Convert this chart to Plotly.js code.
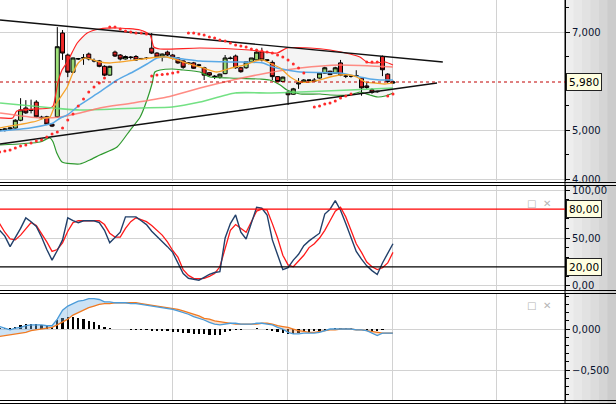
<!DOCTYPE html>
<html><head><meta charset="utf-8">
<script src="https://cdn.plot.ly/plotly-3.0.1.min.js"></script>
<style>html,body{margin:0;padding:0;background:#fff}#chart{width:616px;height:404px}</style>
</head><body><div id="chart"></div>
<script>
// ---------- DATA ----------
const openP = [4.99,5.00,5.02,5.04,5.20,5.45,5.40,5.57,5.25,5.27,
  5.12,5.27,6.98,6.53,6.18,6.45,6.48,6.55,6.42,6.41,
  6.30,6.12,6.59,6.53,6.45,6.49,6.50,6.45,6.47,6.67,
  6.57,6.49,6.59,6.53,6.47,6.41,6.37,6.37,6.33,6.27,
  6.17,6.10,6.08,6.15,6.47,6.51,6.27,6.27,6.39,6.43,
  6.59,6.42,6.38,6.09,5.99,5.77,5.73,5.94,5.98,6.01,
  6.02,6.06,6.16,6.20,6.16,6.37,6.10,6.10,6.11,6.06,
  5.90,5.82,5.78,6.50,6.14,5.96];
const highP = [5.03,5.04,5.06,5.22,5.65,5.61,5.62,5.61,5.29,5.29,
  5.14,7.10,7.04,6.56,6.48,6.47,6.55,6.58,6.46,6.43,
  6.32,6.31,6.62,6.55,6.52,6.51,6.53,6.47,6.49,6.98,
  6.59,6.56,6.62,6.55,6.49,6.42,6.38,6.39,6.35,6.29,
  6.18,6.12,6.15,6.53,6.50,6.54,6.29,6.39,6.47,6.62,
  6.68,6.44,6.42,6.10,6.09,5.79,5.86,6.06,6.04,6.03,
  6.06,6.17,6.29,6.21,6.29,6.43,6.13,6.12,6.22,6.08,
  5.96,5.85,5.80,6.52,6.16,6.01];
const lowP = [4.96,4.97,5.00,5.03,5.18,5.33,5.34,5.25,5.22,5.10,
  5.06,5.25,6.43,6.08,6.17,6.43,6.33,6.42,6.38,6.28,
  6.10,6.11,6.49,6.42,6.44,6.44,6.41,6.43,6.44,6.55,
  6.47,6.40,6.51,6.44,6.35,6.25,6.34,6.25,6.30,6.02,
  6.10,6.04,6.05,6.14,6.44,6.25,6.17,6.25,6.38,6.42,
  6.40,6.40,6.02,5.98,5.98,5.51,5.72,5.84,5.96,5.96,
  5.99,6.05,6.15,6.12,6.16,6.10,6.06,6.07,6.08,5.70,
  5.84,5.74,5.76,6.10,5.96,5.94];
const closeP = [5.01,5.02,5.04,5.20,5.41,5.35,5.41,5.27,5.26,5.12,
  5.08,6.70,6.57,6.18,6.47,6.455,6.47,6.45,6.41,6.30,
  6.12,6.30,6.51,6.45,6.50,6.48,6.43,6.46,6.46,6.57,
  6.49,6.55,6.53,6.47,6.37,6.28,6.36,6.26,6.32,6.12,
  6.12,6.09,6.14,6.47,6.46,6.27,6.19,6.39,6.47,6.59,
  6.43,6.43,6.09,5.99,6.08,5.72,5.84,5.96,6.02,6.02,
  6.00,6.16,6.27,6.13,6.27,6.12,6.10,6.10,6.10,5.86,
  5.87,5.77,5.79,6.23,5.99,5.98];

// Parabolic SAR (null = no dot visible)
const sarP = [4.552,4.572,4.593,4.634,4.674,4.695,4.736,4.776,4.797,4.858,
  4.919,4.960,5.042,5.205,5.327,5.490,5.633,5.776,5.878,5.960,
  6.062,7.102,7.102,7.061,7.020,7.000,6.980,6.980,6.959,6.102,
  6.123,6.133,6.143,6.164,6.184,null,6.980,6.980,6.959,6.939,
  6.898,6.878,6.837,6.816,6.776,6.735,6.714,6.694,6.653,6.633,
  6.612,6.592,6.572,6.531,6.490,6.429,6.347,6.266,6.164,null,
  5.470,5.490,5.531,5.552,5.592,5.654,5.694,5.735,null,null,
  6.388,6.388,6.388,null,5.694,5.735];

// Bollinger bands and moving averages (sampled along the bar index)
const bbUpperX = [0.08,2.5,3.3,9.6,10.2,11.1,11.9,12.9,14.8,16.7,19.1,22.4,26.8,28.7,29.4,30.6,38.2,47.7,52.9,54.8,59.2,63.0,66.8,68.7,70.0,71.6,73.5,75.0];
const bbUpper  = [5.246,5.246,5.388,5.450,5.490,5.960,6.225,6.388,6.776,6.980,7.061,7.082,7.041,6.939,6.694,6.653,6.674,6.633,6.572,6.674,6.674,6.633,6.551,6.490,6.388,6.368,6.388,6.327];
const bbLowerX = [0.08,7.7,9.6,10.2,10.9,11.9,15.3,17.2,19.1,22.4,24.9,26.8,28.1,29.1,29.6,30.6,32.9,35.0,38.2,40.1,43.9,49.6,51.5,53.5,54.8,57.3,61.1,63.0,66.8,68.7,70.6,72.1,73.5,75.0];
const bbLower  = [4.695,4.756,4.838,4.756,4.532,4.348,4.307,4.389,4.491,4.654,5.000,5.266,5.613,5.960,6.184,6.225,6.245,6.225,6.184,6.082,6.062,6.041,6.021,5.919,5.817,5.735,5.735,5.715,5.715,5.776,5.715,5.674,5.694,5.756];
const maBlueX = [0.08,5.8,9.6,10.2,11.6,12.9,15.3,19.1,22.4,25.4,28.1,30.0,31.9,35.0,38.2,44.5,50.2,52.1,54.8,57.3,64.9,68.7,70.6,72.5,75.0];
const maBlue  = [4.980,5.042,5.123,5.144,5.246,5.307,5.511,5.776,6.021,6.184,6.347,6.470,6.490,6.449,6.408,6.388,6.368,6.286,6.225,6.184,6.164,6.082,6.041,6.021,6.021];
const maOrangeX = [0.08,6.4,8.7,9.6,10.2,10.6,12.9,13.8,15.0,16.3,17.8,19.1,21.0,22.9,25.8,28.7,30.6,31.9,33.8,36.3,38.8,41.4,43.0,44.9,46.8,48.7,50.2,51.5,53.5,55.4,57.3,59.2,61.1,63.0,64.9,66.8,68.1,69.7,71.6,73.5,75.0];
const maOrange  = [5.042,5.164,5.246,5.266,5.409,5.511,5.878,6.123,6.368,6.470,6.429,6.388,6.368,6.388,6.429,6.470,6.490,6.490,6.429,6.347,6.266,6.184,6.225,6.286,6.327,6.408,6.429,6.368,6.266,6.082,5.980,5.980,6.021,6.082,6.123,6.123,6.082,5.980,5.960,5.939,5.960];
const maSalmonX = [0.08,7.7,11.6,15.3,19.1,25.4,31.9,38.2,44.5,51.0,57.3,64.9,75.0];
const maSalmon  = [5.347,5.246,5.266,5.347,5.450,5.552,5.674,5.858,6.021,6.164,6.266,6.327,6.286];
const maGreenX = [0.08,10.2,15.3,26.8,32.9,38.2,44.9,51.5,57.3,66.8,75.0];
const maGreen  = [5.552,5.450,5.409,5.450,5.470,5.572,5.756,5.756,5.776,5.817,5.858];

// Triangle trend lines
const trendUpX = [0.08, 84.5], trendUpY = [7.245, 6.388];
const trendLoX = [0.08, 83.4], trendLoY = [4.715, 5.960];

// Stochastic %K / %D
const stochK = [58,52,41,50,60,71,67,62,51,38,27,37,48,71,68,66,68,68,68,66,
  58,45,50,56,72,72,72,68,64,57,52,46,41,35,24,13,8,7,6,9,
  12,14,15,50,65,74,56,49,65,82,81,74,48,32,17,19,27,33,42,47,
  51,55,75,80,89,79,65,50,36,28,21,16,12,24,34,44];
const stochD = [65,56,49,48,53,60,66,63,55,46,36,38,45,57,66,68,68,68,68,68,
  64,55,51,51,60,67,71,69,67,63,58,53,46,37,30,17,11,8,7.5,8,
  10,13,20,40,58,64,60,56,67,78,80,79,65,50,32,22,20,26,32,40,
  44,50,58,68,78,82,72,58,44,35,25,20,17,19,24,35];
const stochLevels = [80, 20];

// MACD, signal, histogram
const macdV = [0.03,0.01,-0.01,0.01,0.02,0.04,0.05,0.05,0.05,0.04,
  0.04,0.12,0.23,0.28,0.31,0.34,0.35,0.37,0.37,0.36,
  0.33,0.33,0.32,0.32,0.32,0.31,0.31,0.30,0.29,0.28,
  0.27,0.26,0.25,0.24,0.22,0.20,0.18,0.15,0.13,0.11,
  0.08,0.06,0.05,0.06,0.07,0.07,0.06,0.06,0.06,0.07,
  0.07,0.06,0.05,0.02,0.00,-0.04,-0.06,-0.06,-0.05,-0.05,
  -0.05,-0.04,-0.02,0.00,0.00,0.00,0.00,0.00,-0.01,-0.01,
  -0.02,-0.05,-0.08,-0.05,-0.05,-0.05];
const signalV = [-0.09,-0.08,-0.07,-0.06,-0.05,-0.04,-0.02,-0.01,0.00,0.01,
  0.02,0.05,0.08,0.12,0.17,0.20,0.24,0.26,0.28,0.30,
  0.31,0.31,0.32,0.32,0.32,0.32,0.32,0.31,0.30,0.29,
  0.28,0.27,0.26,0.25,0.24,0.22,0.20,0.18,0.16,0.13,
  0.12,0.10,0.09,0.08,0.07,0.06,0.06,0.06,0.06,0.06,
  0.07,0.07,0.06,0.04,0.03,0.02,0.00,-0.02,-0.03,-0.04,
  -0.04,-0.03,-0.02,-0.01,-0.01,0.00,0.00,0.00,-0.01,-0.01,
  -0.02,-0.03,-0.04,-0.05,-0.05,-0.05];
const histV = [0.01,0.01,0.01,0.03,0.05,0.06,0.06,0.06,0.05,0.04,
  0.02,0.11,0.14,0.15,0.15,0.14,0.12,0.10,0.08,0.05,
  0.02,0.01,0.006,0.006,0.006,-0.006,-0.01,-0.01,-0.015,-0.02,
  -0.02,-0.025,-0.03,-0.035,-0.04,-0.05,-0.05,-0.06,-0.06,-0.065,
  -0.07,-0.07,-0.07,-0.04,-0.03,-0.01,-0.01,0.006,0.006,0.01,
  0.006,-0.01,-0.03,-0.04,-0.05,-0.06,-0.06,-0.05,-0.04,-0.04,
  -0.03,-0.02,-0.01,0.006,0.01,0.01,0.01,0.01,0.006,0.006,
  -0.01,-0.02,-0.02,-0.01,0.006,0.006];

// Axis ticks
const priceTicks = [4, 5, 7];      // 6 sits under the last-price box
const monthGrid = [12.9, 32.9, 54.9, 75.0, 94.8];

// ---------- CHART ----------
const days = closeP.map((_, i) => i);
const lastPrice = closeP[closeP.length - 1];
const H = 404, W = 616, PW = 565;
const py = v => 1 - v / H;
const px = v => v / PW;
const fmt = (v, d) => v.toFixed(d).replace('.', ',');
const tickFont = {family: 'DejaVu Sans', size: 10, color: '#0a1430'};

const base = {showlegend: false, hoverinfo: 'skip'};
const line = (x, y, color, width, ax, extra) => Object.assign({}, base, {
  type: 'scatter', mode: 'lines', x: x, y: y, yaxis: ax,
  line: {color: color, width: width, shape: 'spline', smoothing: 0.6}
}, extra || {});

const traces = [
  line(bbLowerX, bbLower, '#2f9a2f', 1.2, 'y'),
  line(bbUpperX, bbUpper, '#ff2222', 1.2, 'y', {fill: 'tonexty', fillcolor: 'rgba(0,0,0,0.045)'}),
  line(maGreenX, maGreen, 'rgba(90,220,110,0.85)', 1.6, 'y'),
  line(maSalmonX, maSalmon, 'rgba(255,120,110,0.85)', 1.6, 'y'),
  line(maBlueX, maBlue, '#5aa9e6', 1.5, 'y'),
  line(maOrangeX, maOrange, '#f5a32a', 1.3, 'y'),
  Object.assign({}, base, {type: 'scatter', mode: 'lines', x: trendUpX, y: trendUpY, yaxis: 'y', line: {color: '#111', width: 1.4}}),
  Object.assign({}, base, {type: 'scatter', mode: 'lines', x: trendLoX, y: trendLoY, yaxis: 'y', line: {color: '#111', width: 1.4}}),
  Object.assign({}, base, {type: 'scatter', mode: 'markers', x: days, y: sarP, yaxis: 'y', marker: {color: '#ff2a2a', size: 3}}),
  Object.assign({}, base, {type: 'candlestick', x: days, open: openP, high: highP, low: lowP, close: closeP,
    xaxis: 'x', yaxis: 'y', whiskerwidth: 0,
    increasing: {fillcolor: '#9fe07a', line: {color: '#000', width: 1}},
    decreasing: {fillcolor: '#ee2a2a', line: {color: '#000', width: 1}}}),
  // stochastic
  Object.assign({}, base, {type: 'scatter', mode: 'lines', x: days, y: stochD, yaxis: 'y2', line: {color: '#ff1a1a', width: 1.3}}),
  Object.assign({}, base, {type: 'scatter', mode: 'lines', x: days, y: stochK, yaxis: 'y2', line: {color: '#22406a', width: 1.4}}),
];

// MACD fills
const hiLine = macdV.map((m, i) => Math.max(m, signalV[i]));
traces.push(
  Object.assign({}, base, {type: 'bar', x: days, y: histV, yaxis: 'y3', width: 0.42, marker: {color: '#000', line: {width: 0}}}),
  Object.assign({}, base, {type: 'scatter', mode: 'lines', x: days, y: signalV, yaxis: 'y3', line: {width: 0}}),
  Object.assign({}, base, {type: 'scatter', mode: 'lines', x: days, y: hiLine, yaxis: 'y3', line: {width: 0}, fill: 'tonexty', fillcolor: 'rgba(120,178,228,0.38)'}),
  Object.assign({}, base, {type: 'scatter', mode: 'lines', x: days, y: macdV, yaxis: 'y3', line: {width: 0}}),
  Object.assign({}, base, {type: 'scatter', mode: 'lines', x: days, y: hiLine, yaxis: 'y3', line: {width: 0}, fill: 'tonexty', fillcolor: 'rgba(246,160,100,0.35)'}),
  Object.assign({}, base, {type: 'scatter', mode: 'lines', x: days, y: signalV, yaxis: 'y3', line: {color: '#f07a22', width: 1.3}}),
  Object.assign({}, base, {type: 'scatter', mode: 'lines', x: days, y: macdV, yaxis: 'y3', line: {color: '#4a9bd9', width: 1.3}})
);

// ---------- LAYOUT ----------
const shapes = [];
const strip = ['#eeeeee','#e8e8e8','#e2e2e2','#dcdcdc','#d5d5d5','#cccccc'];
strip.forEach((c, k) => shapes.push({type: 'rect', xref: 'paper', yref: 'paper', layer: 'below',
  x0: px(PW + k * 8.5), x1: px(PW + (k + 1) * 8.5 + 0.5), y0: 0, y1: 1, fillcolor: c, line: {width: 0}}));
// the lowest main label is partly hidden by the panel border
shapes.push({type: 'rect', xref: 'paper', yref: 'paper', layer: 'above', x0: px(PW + 1), x1: px(W), y0: py(186), y1: py(181.8), fillcolor: '#e4e4e4', line: {width: 0}});
[182.5, 185.5, 290.5, 293.5, 400.5, 403.5].forEach(y => shapes.push({type: 'line', xref: 'paper', yref: 'paper', layer: 'above',
  x0: 0, x1: px(W), y0: py(y), y1: py(y), line: {color: '#000', width: 1.2}}));
shapes.push({type: 'line', xref: 'paper', yref: 'paper', layer: 'above', x0: 1, x1: 1, y0: 0, y1: 1, line: {color: '#000', width: 1}});
shapes.push({type: 'line', xref: 'paper', yref: 'y', x0: 0, x1: 1, y0: lastPrice, y1: lastPrice, line: {color: '#c00000', width: 1, dash: 'dot'}});
shapes.push({type: 'line', xref: 'paper', yref: 'y2', x0: 0, x1: 1, y0: stochLevels[0], y1: stochLevels[0], line: {color: '#ff0000', width: 1.3}});
shapes.push({type: 'line', xref: 'paper', yref: 'y2', x0: 0, x1: 1, y0: stochLevels[1], y1: stochLevels[1], line: {color: '#000', width: 1.3}});

const boxLabel = (text, y, yref) => ({xref: 'paper', yref: yref, x: 1, y: y, xanchor: 'left', xshift: 1,
  text: text, showarrow: false, bgcolor: '#ffffe1', bordercolor: '#222', borderwidth: 1, borderpad: 2,
  font: {family: 'DejaVu Sans', size: 10.5, color: '#000'}});
const icon = (t, x, y) => ({xref: 'paper', yref: 'paper', x: px(x), y: py(y), text: t, showarrow: false,
  font: {family: 'DejaVu Sans', size: 10, color: '#b5b5b5'}});
const annotations = [
  boxLabel(fmt(lastPrice, 3), lastPrice, 'y'),
  boxLabel(fmt(stochLevels[0], 2), stochLevels[0], 'y2'),
  boxLabel(fmt(stochLevels[1], 2), stochLevels[1], 'y2'),
  icon('□', 538, 203), icon('✕', 553, 203),
  icon('□', 538, 313), icon('✕', 553, 313)
];

const yBase = {side: 'right', anchor: 'x', showline: true, linecolor: '#000', linewidth: 1,
  ticks: 'outside', ticklen: 4, tickcolor: '#000', tickfont: tickFont, zeroline: false,
  showgrid: true, gridcolor: '#d2d2d2', gridwidth: 1, fixedrange: true};

const layout = {
  width: W, height: H, margin: {l: 0, r: W - PW, t: 0, b: 0, pad: 0},
  paper_bgcolor: '#fff', plot_bgcolor: '#fff', separators: ',.', showlegend: false,
  bargap: 0, boxgap: 0.05, boxgroupgap: 0.2,
  xaxis: {range: [0.076, 107.8], anchor: 'y3', tickmode: 'array', tickvals: monthGrid, showticklabels: false,
    ticks: '', showgrid: true, gridcolor: '#d2d2d2', zeroline: false, showline: false, rangeslider: {visible: false}, fixedrange: true},
  yaxis: Object.assign({}, yBase, {domain: [py(181), 1], range: [3.96, 7.653],
    tickmode: 'array', tickvals: priceTicks, ticktext: priceTicks.map(v => fmt(v, 3)),
    minor: {tickmode: 'linear', tick0: 0, dtick: 0.5, ticks: 'outside', ticklen: 3, tickcolor: '#000', showgrid: false}}),
  yaxis2: Object.assign({}, yBase, {domain: [py(290), py(186)], range: [-4.2, 104.2], tick0: 0, dtick: 50, tickformat: '.2f',
    minor: {dtick: 10, ticks: 'outside', ticklen: 3, tickcolor: '#000', showgrid: false}}),
  yaxis3: Object.assign({}, yBase, {domain: [py(400), py(294)], range: [-0.866, 0.427], tick0: 0, dtick: 0.5, tickformat: '.3f',
    minor: {dtick: 0.1, ticks: 'outside', ticklen: 3, tickcolor: '#000', showgrid: false}}),
  shapes: shapes, annotations: annotations
};

Plotly.newPlot('chart', traces, layout, {displayModeBar: false, staticPlot: true});
</script></body></html>
